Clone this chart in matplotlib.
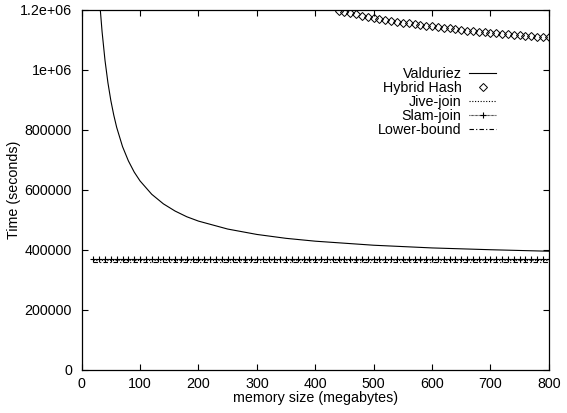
import numpy as np
import matplotlib
matplotlib.use("Agg")
import matplotlib.pyplot as plt

plt.rcParams['font.family'] = ['Liberation Sans', 'DejaVu Sans']

# ---- data ----
val_x = [32, 35, 40, 45, 50, 55, 60, 70, 80, 90, 100, 120, 140, 160, 180,
         200, 250, 300, 350, 400, 500, 600, 700, 800]
val_y = [1199000, 1127000, 1031500, 957000, 897500, 849000, 808000, 744000,
         696500, 659000, 629500, 585000, 553000, 529000, 510000, 495500,
         469000, 451000, 438000, 428500, 415000, 406000, 400000, 395000]

hh_x = list(range(440, 810, 10))
hh_y = [1198000, 1193000, 1189000, 1185000, 1181000, 1177000, 1174000,
        1170000, 1167000, 1164000, 1161000, 1158000, 1155000, 1152000,
        1150000, 1147000, 1145000, 1142000, 1140000, 1138000, 1135000,
        1133000, 1131000, 1129000, 1127000, 1126000, 1124000, 1122000,
        1120000, 1119000, 1117000, 1115000, 1114000, 1112000, 1111000,
        1109000, 1108000]

jive_x = [20, 800]
jive_y = [366000, 366000]

slam_x = list(range(20, 810, 10))
slam_y = [370000, 370000, 370000, 370000, 370000, 370000, 370000, 370000,
          370000, 370000, 370000, 370000, 370000, 370000, 370000, 370000,
          370000, 370000, 370000, 370000, 370000, 370000, 370000, 370000,
          370000, 370000, 370000, 370000, 370000, 370000, 370000, 370000,
          370000, 370000, 370000, 370000, 370000, 370000, 370000, 370000,
          370000, 370000, 370000, 370000, 370000, 370000, 370000, 370000,
          370000, 370000, 370000, 370000, 370000, 370000, 370000, 370000,
          370000, 370000, 370000, 370000, 370000, 370000, 370000, 370000,
          370000, 370000, 370000, 370000, 370000, 370000, 370000, 370000,
          370000, 370000, 370000, 370000, 370000, 370000, 370000]

low_x = [20, 800]
low_y = [358000, 358000]

x_ticks = [0, 100, 200, 300, 400, 500, 600, 700, 800]
y_ticks = [0, 200000, 400000, 600000, 800000, 1000000, 1200000]
y_tick_labels = ['0', '200000', '400000', '600000', '800000', '1e+06', '1.2e+06']

# ---- figure ----
fs = 10.3
fig = plt.figure(figsize=(5.67, 4.13), dpi=100)
ax = fig.add_axes([0.144, 0.105, 0.824, 0.871])

lw = 0.8
ax.plot(val_x, val_y, color='black', lw=lw, label='Valduriez')
ax.plot(hh_x, hh_y, ls='none', marker='D', ms=3.8, mfc='none', mec='black',
        mew=0.7, color='black', label='Hybrid Hash')
ax.plot(jive_x, jive_y, color='black', lw=lw, ls=(0, (1, 1.5)), label='Jive-join')
ax.plot(slam_x, slam_y, color='black', lw=lw, ls=(0, (0.6, 0.6)), marker='+',
        ms=4.2, mew=0.8, label='Slam-join')
ax.plot(low_x, low_y, color='black', lw=lw, ls=(0, (4, 2, 1, 2)), label='Lower-bound')

ax.set_xlim(0, 800)
ax.set_ylim(0, 1200000)
ax.set_xticks(x_ticks)
ax.set_xticklabels([str(v) for v in x_ticks])
ax.set_yticks(y_ticks)
ax.set_yticklabels(y_tick_labels)
ax.tick_params(direction='in', length=4, width=0.8, top=True, right=True,
               labelsize=fs, colors='black')
ax.tick_params(axis='y', pad=7)
ax.tick_params(axis='x', pad=5)
for s in ax.spines.values():
    s.set_linewidth(0.9)

ax.set_xlabel('memory size (megabytes)', fontsize=fs, labelpad=0)
ax.set_ylabel('Time (seconds)', fontsize=fs)
ax.yaxis.set_label_coords(-0.130, 0.5)

leg = ax.legend(loc='upper right', bbox_to_anchor=(0.902, 0.862), frameon=False,
                markerfirst=False, fontsize=fs, handlelength=1.85,
                handletextpad=0.55, labelspacing=0.0, borderpad=0)

fig.savefig('out.png', dpi=100)
